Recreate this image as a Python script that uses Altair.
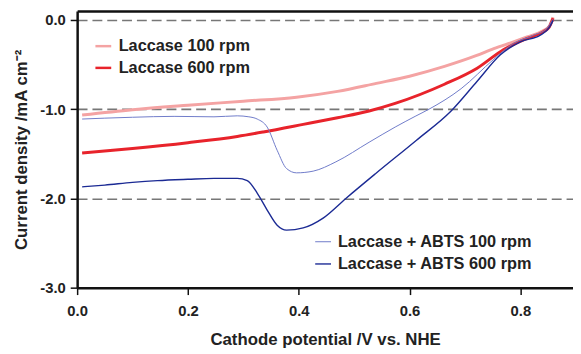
import altair as alt
import pandas as pd

# ---- data ----
lac100_x = [0.009, 0.10, 0.20, 0.30, 0.396, 0.47, 0.54, 0.60, 0.663, 0.72, 0.752, 0.79, 0.812, 0.841, 0.852, 0.859]
lac100_y = [-1.065, -1.005, -0.955, -0.91, -0.865, -0.80, -0.71, -0.63, -0.52, -0.40, -0.32, -0.24, -0.19, -0.12, -0.07, 0.03]

lac600_x = [0.009, 0.10, 0.20, 0.289, 0.336, 0.408, 0.47, 0.527, 0.574, 0.663, 0.722, 0.77, 0.812, 0.841, 0.852, 0.859]
lac600_y = [-1.49, -1.44, -1.375, -1.305, -1.255, -1.17, -1.095, -1.02, -0.935, -0.72, -0.54, -0.33, -0.207, -0.133, -0.08, 0.02]

abts100_x = [0.009, 0.05, 0.10, 0.175, 0.247, 0.289, 0.31, 0.325, 0.343, 0.361, 0.378, 0.396, 0.426, 0.467, 0.527, 0.574, 0.61, 0.635, 0.693, 0.752, 0.788, 0.824, 0.847, 0.859]
abts100_y = [-1.11, -1.10, -1.09, -1.08, -1.085, -1.074, -1.085, -1.11, -1.20, -1.46, -1.665, -1.713, -1.694, -1.59, -1.37, -1.20, -1.08, -1.0, -0.77, -0.44, -0.26, -0.17, -0.096, 0.01]

abts600_x = [0.009, 0.05, 0.10, 0.145, 0.20, 0.247, 0.289, 0.307, 0.325, 0.343, 0.361, 0.378, 0.408, 0.444, 0.485, 0.539, 0.612, 0.675, 0.722, 0.764, 0.80, 0.836, 0.853, 0.859]
abts600_y = [-1.87, -1.85, -1.82, -1.80, -1.785, -1.775, -1.775, -1.80, -1.94, -2.13, -2.30, -2.355, -2.33, -2.22, -2.0, -1.72, -1.35, -1.02, -0.687, -0.39, -0.244, -0.17, -0.078, -0.004]

red_names = ["Laccase 100 rpm", "Laccase 600 rpm"]
red_colors = ["#F4A3A3", "#E8232B"]
blue_names = ["Laccase + ABTS 100 rpm", "Laccase + ABTS 600 rpm"]
blue_colors = ["#6F7BC9", "#1B2A94"]
blue_widths = [1.0, 1.4]

x_ticks = [0.0, 0.2, 0.4, 0.6, 0.8]
y_ticks = [-3.0, -2.0, -1.0, 0.0]

def frame(xs, ys, name):
    return pd.DataFrame({"x": xs, "y": ys, "series": name})

red_df = pd.concat([frame(lac100_x, lac100_y, red_names[0]),
                    frame(lac600_x, lac600_y, red_names[1])])
blue_df = pd.concat([frame(abts100_x, abts100_y, blue_names[0]),
                     frame(abts600_x, abts600_y, blue_names[1])])

FONT = "Liberation Sans"
xscale = alt.Scale(domain=[0, 0.895], nice=False, zero=False)
yscale = alt.Scale(domain=[-3.0, 0.1], nice=False, zero=False)
hyphen_label = "replace(format(datum.value, '.1f'), '\u2212', '-')"

legend_common = dict(orient="none", title=None, symbolType="stroke", symbolSize=256,
                     labelFont=FONT, labelFontWeight="bold", labelFontSize=16.5, labelColor="#222",
                     labelOffset=6, padding=0, labelLimit=400)

red = alt.Chart(red_df).mark_line(strokeWidth=3, interpolate="monotone").encode(
    x=alt.X("x:Q", scale=xscale,
            axis=alt.Axis(values=x_ticks, labelExpr=hyphen_label, title="Cathode potential /V vs. NHE",
                          grid=False, domainColor="#111", domainWidth=2.5, tickColor="#111",
                          tickWidth=1.5, tickSize=7, labelPadding=9, titlePadding=14,
                          labelFlush=False)),
    y=alt.Y("y:Q", scale=yscale,
            axis=alt.Axis(values=y_ticks, labelExpr=hyphen_label, title="Current density /mA cm⁻²",
                          grid=True, gridColor="#777", gridDash=[10, 5], gridWidth=1.6,
                          domainColor="#111", domainWidth=2.5, tickColor="#111",
                          tickWidth=1.5, tickSize=7, labelPadding=5, titlePadding=9,
                          labelFlush=False)),
    color=alt.Color("series:N", scale=alt.Scale(domain=red_names, range=red_colors),
                    legend=alt.Legend(legendX=17, legendY=26, symbolStrokeWidth=2.5,
                                      rowPadding=4, **legend_common)),
    order=alt.Order("x:Q"),
)

blue = alt.Chart(blue_df).mark_line(interpolate="monotone").encode(
    x=alt.X("x:Q", scale=xscale,
            axis=alt.Axis(orient="top", labels=False, ticks=False, title=None, grid=False,
                          domainColor="#111", domainWidth=2.5)),
    y=alt.Y("y:Q", scale=yscale),
    color=alt.Color("series:N", scale=alt.Scale(domain=blue_names, range=blue_colors),
                    legend=alt.Legend(legendX=240, legendY=225, symbolStrokeWidth=1.3,
                                      rowPadding=5, **legend_common)),
    strokeWidth=alt.StrokeWidth("series:N", scale=alt.Scale(domain=blue_names, range=blue_widths),
                                legend=None),
    order=alt.Order("x:Q"),
)

chart = alt.layer(red, blue).resolve_scale(
    color="independent", strokeWidth="independent"
).resolve_axis(x="independent").properties(
    width=502, height=280,
    autosize=alt.AutoSizeParams(type="none"),
    padding={"left": 70, "top": 1, "right": 0, "bottom": 63},
).configure_view(stroke=None).configure_axis(
    labelFont=FONT, labelFontWeight="bold", labelFontSize=15, labelColor="#222",
    titleFont=FONT, titleFontWeight="bold", titleFontSize=17, titleColor="#222",
)

chart.save("out.html", embed_options={"renderer": "svg", "actions": False})
